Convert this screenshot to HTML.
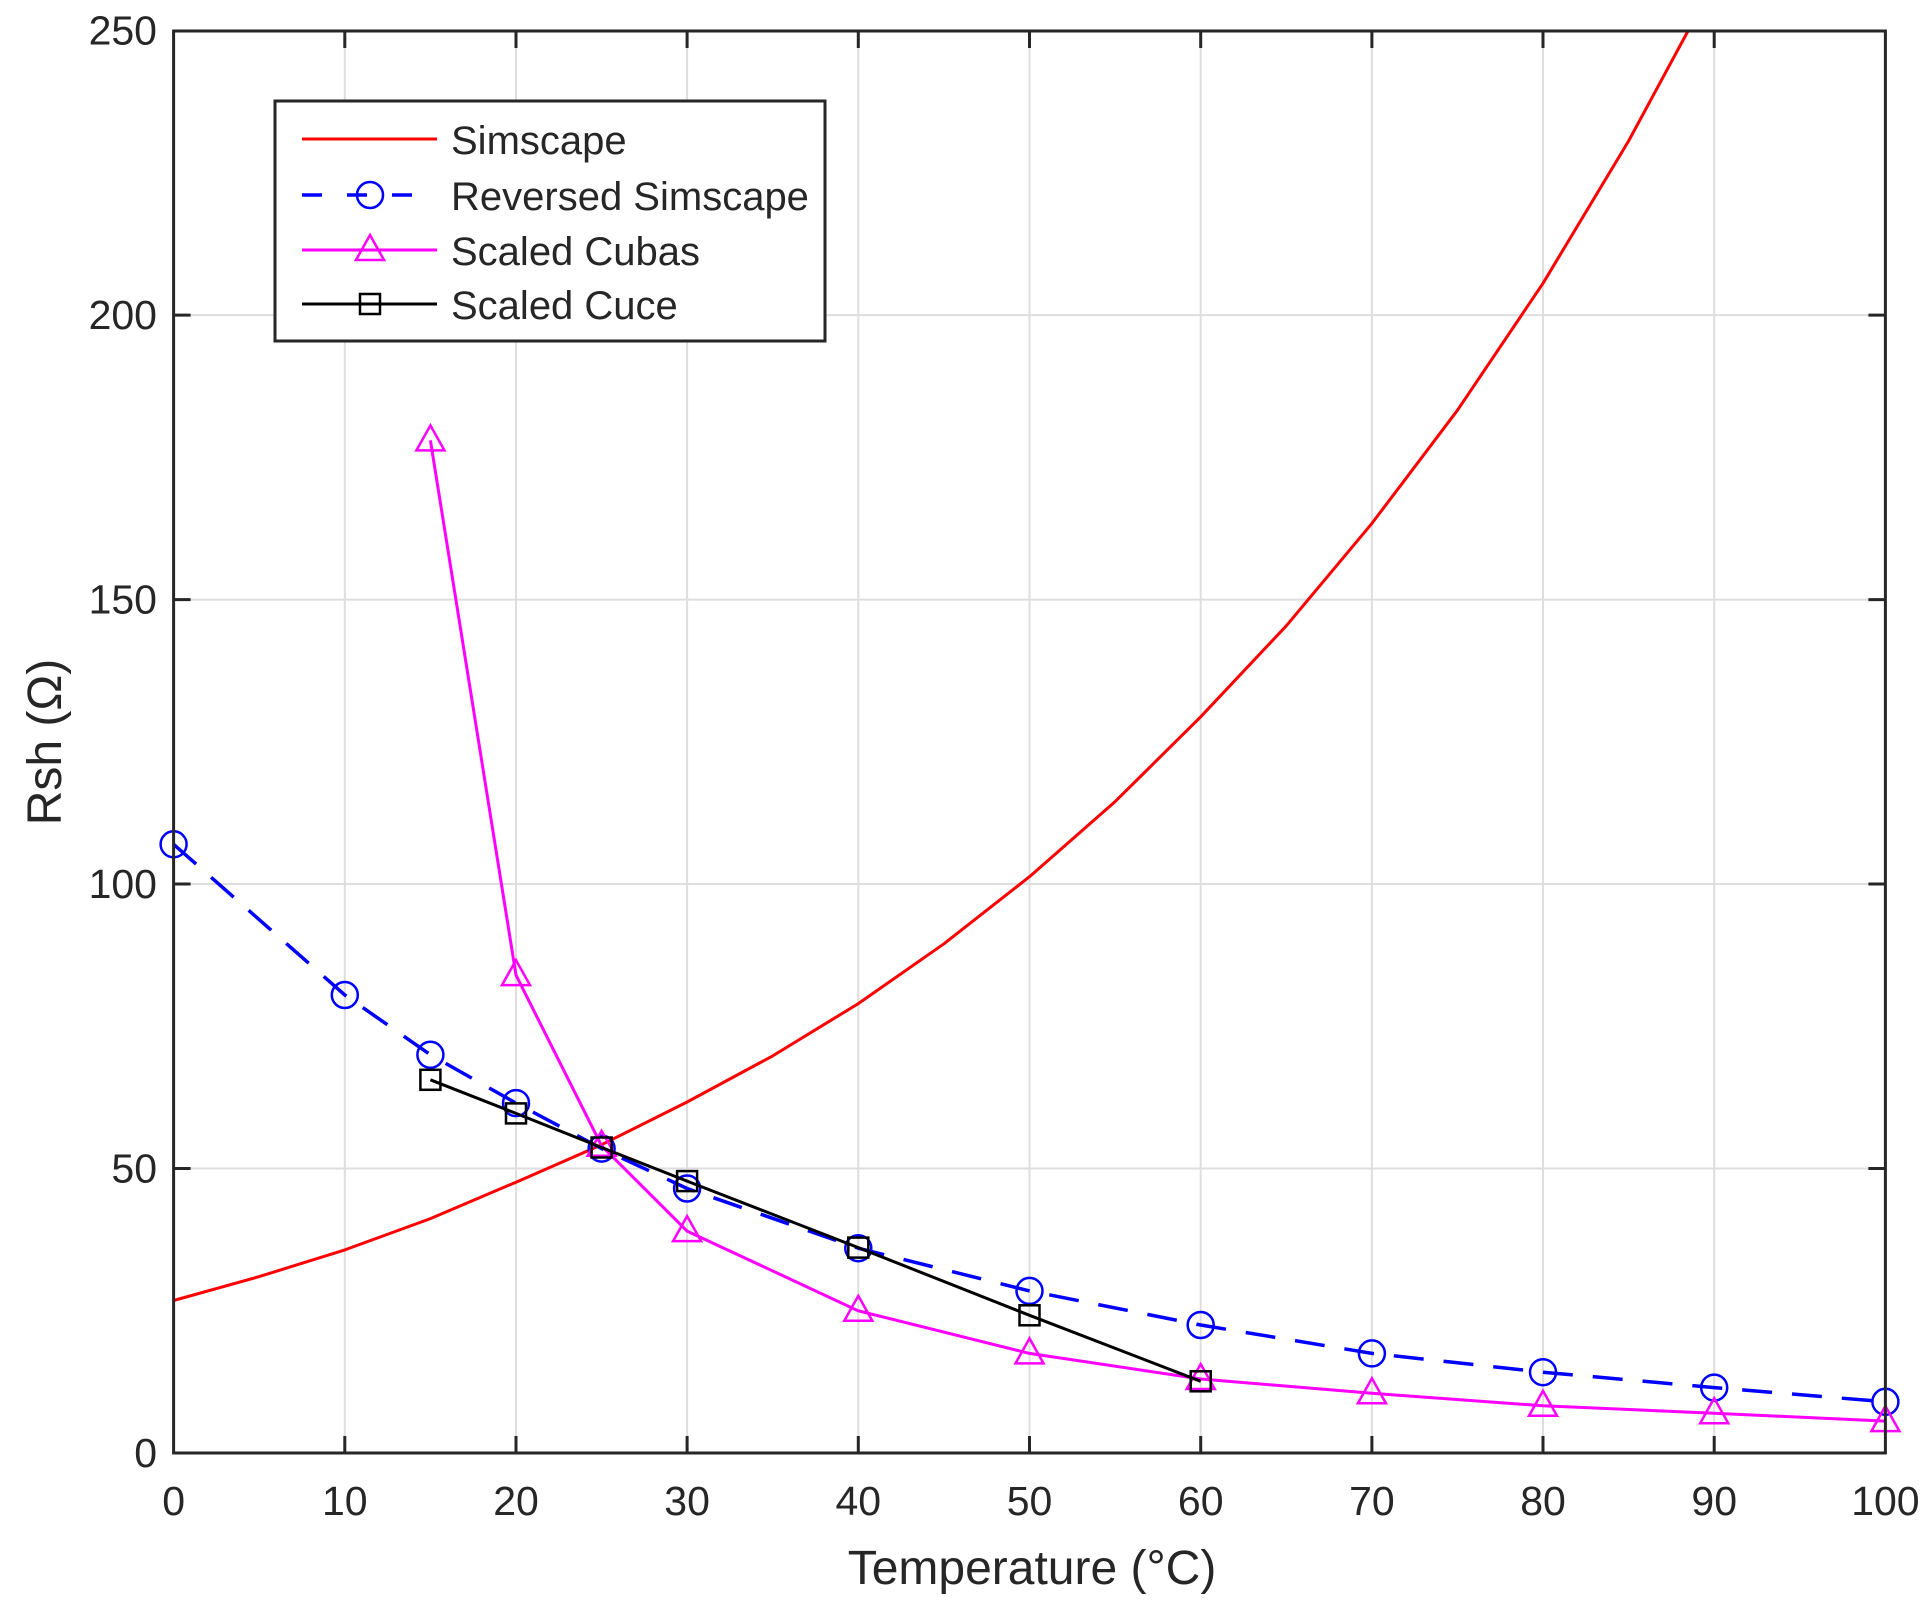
<!DOCTYPE html>
<html><head><meta charset="utf-8"><style>
html,body{margin:0;padding:0;background:#fff;}
svg{display:block;}
text{font-family:"Liberation Sans",Arial,sans-serif;fill:#262626;}
</style></head><body>
<svg width="1931" height="1619" viewBox="0 0 1931 1619" xmlns="http://www.w3.org/2000/svg">
<defs>
<circle id="ci" r="13" fill="none" stroke="#0000ff" stroke-width="2.5"/>
<polygon id="tr" points="0,-15 14,10 -14,10" fill="none" stroke="#ff00ff" stroke-width="2.5"/>
<rect id="sq" x="-10" y="-10" width="20" height="20" fill="none" stroke="#000" stroke-width="2.5"/>
</defs>
<rect x="0" y="0" width="1931" height="1619" fill="#fff"/>
<g stroke="#dedede" stroke-width="2">
<line x1="344.8" y1="31" x2="344.8" y2="1453"/><line x1="516" y1="31" x2="516" y2="1453"/>
<line x1="687.1" y1="31" x2="687.1" y2="1453"/><line x1="858.3" y1="31" x2="858.3" y2="1453"/>
<line x1="1029.5" y1="31" x2="1029.5" y2="1453"/><line x1="1200.7" y1="31" x2="1200.7" y2="1453"/>
<line x1="1371.9" y1="31" x2="1371.9" y2="1453"/><line x1="1543" y1="31" x2="1543" y2="1453"/>
<line x1="1714.2" y1="31" x2="1714.2" y2="1453"/>
<line x1="173.6" y1="1168.5" x2="1885.4" y2="1168.5"/><line x1="173.6" y1="884" x2="1885.4" y2="884"/>
<line x1="173.6" y1="599.6" x2="1885.4" y2="599.6"/><line x1="173.6" y1="315.1" x2="1885.4" y2="315.1"/>
</g>
<g stroke="#262626" stroke-width="3">
<path d="M344.8,1453v-17M516,1453v-17M687.1,1453v-17M858.3,1453v-17M1029.5,1453v-17M1200.7,1453v-17M1371.9,1453v-17M1543,1453v-17M1714.2,1453v-17
M344.8,31v17M516,31v17M687.1,31v17M858.3,31v17M1029.5,31v17M1200.7,31v17M1371.9,31v17M1543,31v17M1714.2,31v17
M173.6,1168.5h17M173.6,884h17M173.6,599.6h17M173.6,315.1h17
M1885.4,1168.5h-17M1885.4,884h-17M1885.4,599.6h-17M1885.4,315.1h-17" fill="none"/>
</g>
<!-- series -->
<polyline fill="none" stroke="#ff0000" stroke-width="3" stroke-linejoin="round" points="173.6,1300.5 259.2,1276.6 344.8,1249.9 430.4,1218.6 516,1182.2 601.6,1144.7 687.1,1102 772.7,1055.9 858.3,1003.6 943.9,943.8 1029.5,876.7 1115.1,801.6 1200.7,716.8 1286.3,625.8 1371.9,523.4 1457.5,410.2 1543,283.3 1628.6,141 1688,31"/>
<polyline fill="none" stroke="#0000ff" stroke-width="3.5" stroke-dasharray="30,20" points="173.6,844.3 344.8,995 430.4,1054.8 516,1103.1 601.6,1148.6 687.1,1188.5 858.3,1248.2 1029.5,1290.9 1200.7,1325 1371.9,1353.4 1543,1372.2 1714.2,1387.6 1885.4,1401.8"/>
<g>
<use href="#ci" x="173.6" y="844.3"/><use href="#ci" x="344.8" y="995"/><use href="#ci" x="430.4" y="1054.8"/><use href="#ci" x="516" y="1103.1"/><use href="#ci" x="601.6" y="1148.6"/><use href="#ci" x="687.1" y="1188.5"/><use href="#ci" x="858.3" y="1248.2"/><use href="#ci" x="1029.5" y="1290.9"/><use href="#ci" x="1200.7" y="1325"/><use href="#ci" x="1371.9" y="1353.4"/><use href="#ci" x="1543" y="1372.2"/><use href="#ci" x="1714.2" y="1387.6"/><use href="#ci" x="1885.4" y="1401.8"/>
</g>
<polyline fill="none" stroke="#ff00ff" stroke-width="3" points="430.4,440.4 516,975.1 601.6,1145.8 687.1,1231.1 858.3,1310.8 1029.5,1353.4 1200.7,1379 1371.9,1393.3 1543,1405.8 1714.2,1413.2 1885.4,1421.1"/>
<g>
<use href="#tr" x="430.4" y="440.4"/><use href="#tr" x="516" y="975.1"/><use href="#tr" x="601.6" y="1145.8"/><use href="#tr" x="687.1" y="1231.1"/><use href="#tr" x="858.3" y="1310.8"/><use href="#tr" x="1029.5" y="1353.4"/><use href="#tr" x="1200.7" y="1379"/><use href="#tr" x="1371.9" y="1393.3"/><use href="#tr" x="1543" y="1405.8"/><use href="#tr" x="1714.2" y="1413.2"/><use href="#tr" x="1885.4" y="1421.1"/>
</g>
<polyline fill="none" stroke="#000" stroke-width="3" points="430.4,1079.8 516,1113.4 601.6,1147.5 687.1,1181.1 858.3,1247.6 1029.5,1315.3 1200.7,1381.3"/>
<g>
<use href="#sq" x="430.4" y="1079.8"/><use href="#sq" x="516" y="1113.4"/><use href="#sq" x="601.6" y="1147.5"/><use href="#sq" x="687.1" y="1181.1"/><use href="#sq" x="858.3" y="1247.6"/><use href="#sq" x="1029.5" y="1315.3"/><use href="#sq" x="1200.7" y="1381.3"/>
</g>
<rect x="173.6" y="31" width="1711.8" height="1422" fill="none" stroke="#262626" stroke-width="3"/>
<!-- tick labels -->
<g font-size="41" text-anchor="end">
<text x="157" y="1467">0</text><text x="157" y="1182.5">50</text><text x="157" y="898">100</text>
<text x="157" y="613.6">150</text><text x="157" y="329.1">200</text><text x="157" y="44.6">250</text>
</g>
<g font-size="41" text-anchor="middle">
<text x="173.6" y="1515">0</text><text x="344.8" y="1515">10</text><text x="516" y="1515">20</text><text x="687.1" y="1515">30</text>
<text x="858.3" y="1515">40</text><text x="1029.5" y="1515">50</text><text x="1200.7" y="1515">60</text><text x="1371.9" y="1515">70</text>
<text x="1543" y="1515">80</text><text x="1714.2" y="1515">90</text><text x="1885.4" y="1515">100</text>
</g>
<text x="1032" y="1584" font-size="48" text-anchor="middle">Temperature (°C)</text>
<text transform="translate(61,742) rotate(-90)" font-size="48" text-anchor="middle">Rsh (Ω)</text>
<!-- legend -->
<rect x="275" y="101" width="550" height="240" fill="#fff" stroke="#262626" stroke-width="3"/>
<line x1="302" y1="139" x2="437" y2="139" stroke="#ff0000" stroke-width="3"/>
<line x1="302" y1="195" x2="437" y2="195" stroke="#0000ff" stroke-width="3.5" stroke-dasharray="20,25"/>
<use href="#ci" x="370" y="195"/>
<line x1="302" y1="250" x2="437" y2="250" stroke="#ff00ff" stroke-width="3"/>
<use href="#tr" x="370" y="250"/>
<line x1="302" y1="304" x2="437" y2="304" stroke="#000" stroke-width="3"/>
<use href="#sq" x="370" y="304"/>
<g font-size="40">
<text x="451" y="154">Simscape</text>
<text x="451" y="210">Reversed Simscape</text>
<text x="451" y="265">Scaled Cubas</text>
<text x="451" y="319">Scaled Cuce</text>
</g>
</svg>
</body></html>
